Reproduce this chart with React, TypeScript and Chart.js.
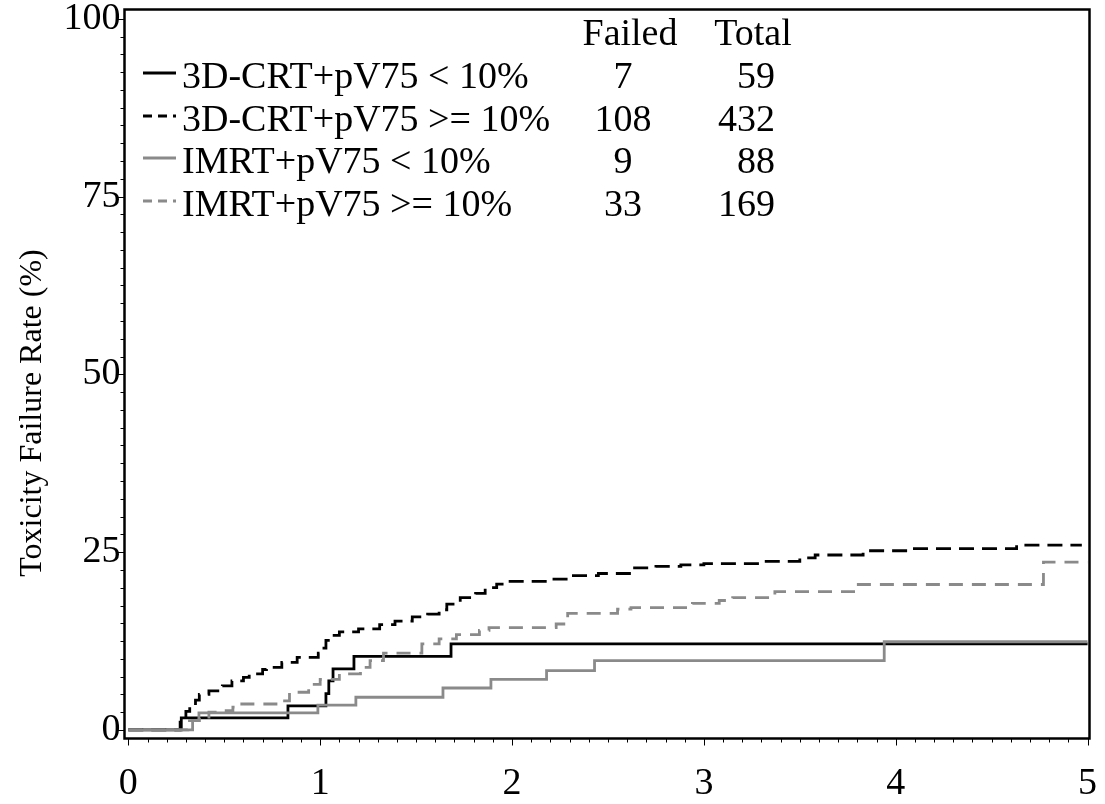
import React, { useEffect, useRef } from "react";
import { Chart, registerables } from "chart.js";

Chart.register(...registerables);

// ---- Data ----
const crtLowX = [0, 0.276, 0.832, 1.03, 1.045, 1.067, 1.176, 1.682, 5.0];
const crtLowY = [0, 1.7, 3.4, 5.1, 6.9, 8.6, 10.35, 12.1, 12.1];

const crtHighX = [0, 0.27, 0.3, 0.32, 0.35, 0.37, 0.42, 0.49, 0.54, 0.6, 0.63, 0.7, 0.72, 0.8, 0.88, 0.99, 1.01, 1.03, 1.06, 1.1, 1.2, 1.31, 1.39, 1.48, 1.56, 1.62, 1.66, 1.73, 1.81, 1.86, 1.92, 1.97, 2.2, 2.32, 2.45, 2.62, 2.75, 2.88, 3.0, 3.3, 3.5, 3.58, 3.83, 4.06, 4.63, 4.97];
const crtHighY = [0, 1.8, 2.6, 3.4, 4.2, 5.0, 5.5, 6.2, 6.9, 7.4, 7.9, 8.5, 8.8, 9.5, 10.2, 10.8, 11.5, 12.6, 13.3, 13.8, 14.2, 14.8, 15.3, 15.9, 16.3, 16.9, 17.7, 18.6, 19.2, 20.0, 20.5, 20.9, 21.2, 21.7, 22.0, 22.8, 23.0, 23.2, 23.4, 23.7, 24.2, 24.6, 25.2, 25.5, 26.0, 26.0];

const imrtLowX = [0, 0.335, 0.368, 0.988, 1.186, 1.64, 1.89, 2.18, 2.43, 3.94, 5.0];
const imrtLowY = [0, 1.3, 2.4, 3.5, 4.6, 5.9, 7.1, 8.35, 9.75, 12.4, 12.4];

const imrtHighX = [0, 0.31, 0.37, 0.42, 0.51, 0.545, 0.58, 0.8, 0.84, 0.94, 1.0, 1.1, 1.21, 1.26, 1.33, 1.53, 1.62, 1.71, 1.83, 1.88, 2.23, 2.27, 2.29, 2.55, 2.62, 2.94, 3.08, 3.15, 3.37, 3.79, 4.77, 5.0];
const imrtHighY = [0, 1.3, 1.8, 2.5, 2.7, 3.2, 3.65, 4.1, 5.3, 6.4, 7.1, 7.9, 8.8, 9.75, 10.8, 12.1, 12.8, 13.4, 14.0, 14.4, 14.9, 15.6, 16.4, 17.0, 17.2, 17.8, 18.2, 18.6, 19.45, 20.45, 23.6, 23.6];

const groupLabels = ["3D-CRT+pV75 < 10%", "3D-CRT+pV75 >= 10%", "IMRT+pV75 < 10%", "IMRT+pV75 >= 10%"];
const failedCounts = ["7", "108", "9", "33"];
const totalCounts = ["59", "432", "88", "169"];
const xTickValues = [0, 1, 2, 3, 4, 5];
const yTickValues = [0, 25, 50, 75, 100];
const yTitle = "Toxicity Failure Rate (%)";

const GRAY = "#8a8a8a";
const FONT = "'Liberation Serif', 'Times New Roman', serif";

const styles = [
  { color: "#000", dash: [] as number[] },
  { color: "#000", dash: [15, 8] },
  { color: GRAY, dash: [] as number[] },
  { color: GRAY, dash: [14, 9] },
];

const toPts = (xs: number[], ys: number[]) => xs.map((x, i) => ({ x, y: ys[i] }));

const overlay = {
  id: "overlay",
  afterDraw(chart: any) {
    const ctx = chart.ctx as CanvasRenderingContext2D;
    const { left, right, top, bottom } = chart.chartArea;
    const xs = chart.scales.x;
    const ys = chart.scales.y;
    ctx.save();
    // frame
    ctx.strokeStyle = "#000";
    ctx.lineWidth = 2.5;
    ctx.setLineDash([]);
    ctx.strokeRect(left, top, right - left, bottom - top);
    // x ticks
    ctx.lineWidth = 1;
    for (let i = 0; i <= 50; i++) {
      const v = i / 10;
      const px = Math.round(xs.getPixelForValue(v)) + 0.5;
      const len = i % 10 === 0 ? 7 : 4;
      ctx.beginPath();
      ctx.moveTo(px, bottom);
      ctx.lineTo(px, bottom + len);
      ctx.stroke();
    }
    // y ticks
    for (let i = 0; i <= 40; i++) {
      const v = i * 2.5;
      const py = Math.round(ys.getPixelForValue(v)) + 0.5;
      const len = i % 10 === 0 ? 7 : 4;
      ctx.beginPath();
      ctx.moveTo(left, py);
      ctx.lineTo(left - len, py);
      ctx.stroke();
    }
    // y title
    ctx.fillStyle = "#000";
    ctx.font = `32px ${FONT}`;
    ctx.textAlign = "center";
    ctx.textBaseline = "alphabetic";
    ctx.save();
    ctx.translate(41, 413);
    ctx.rotate(-Math.PI / 2);
    ctx.fillText(yTitle, 0, 0);
    ctx.restore();
    // legend
    ctx.font = `38px ${FONT}`;
    ctx.textAlign = "center";
    ctx.fillText("Failed", 630, 45);
    ctx.fillText("Total", 753, 45);
    const baselines = [88, 131, 173, 216];
    groupLabels.forEach((lab, i) => {
      const b = baselines[i];
      const st = styles[i];
      ctx.strokeStyle = st.color;
      ctx.lineWidth = 2.8;
      ctx.setLineDash(st.dash.length ? [9, 6] : []);
      ctx.beginPath();
      ctx.moveTo(143, b - 15);
      ctx.lineTo(176, b - 15);
      ctx.stroke();
      ctx.setLineDash([]);
      ctx.fillStyle = "#000";
      ctx.textAlign = "left";
      ctx.fillText(lab, 182, b);
      ctx.textAlign = "center";
      ctx.fillText(failedCounts[i], 623, b);
      ctx.textAlign = "right";
      ctx.fillText(totalCounts[i], 775, b);
    });
    ctx.restore();
  },
};

export default function App() {
  const ref = useRef<HTMLCanvasElement | null>(null);
  useEffect(() => {
    document.body.style.margin = "0";
    const canvas = ref.current!;
    const series = [
      toPts(crtLowX, crtLowY),
      toPts(crtHighX, crtHighY),
      toPts(imrtLowX, imrtLowY),
      toPts(imrtHighX, imrtHighY),
    ];
    const order = [3, 2, 1, 0];
    const chart = new Chart(canvas, {
      type: "line",
      data: {
        datasets: order.map((i) => ({
          label: groupLabels[i],
          data: series[i],
          borderColor: styles[i].color,
          borderDash: styles[i].dash,
          borderWidth: 2.8,
          pointRadius: 0,
          stepped: "before" as const,
          fill: false,
        })),
      },
      options: {
        responsive: false,
        animation: false,
        devicePixelRatio: 1,
        layout: { padding: { top: 9.5, right: 15.5, left: 0, bottom: 0 } },
        plugins: { legend: { display: false }, tooltip: { enabled: false } },
        scales: {
          x: {
            type: "linear",
            min: -0.02,
            max: 5.01,
            grid: { display: false, drawTicks: false },
            border: { display: false },
            afterBuildTicks: (s: any) => {
              s.ticks = xTickValues.map((v) => ({ value: v }));
            },
            afterFit: (s: any) => {
              s.height = 65.5;
              s.paddingLeft = 0;
              s.paddingRight = 0;
            },
            ticks: {
              color: "#000",
              font: { family: FONT, size: 38 },
              padding: 23,
              maxRotation: 0,
              autoSkip: false,
            },
          },
          y: {
            type: "linear",
            min: -1.2,
            max: 101.3,
            grid: { display: false, drawTicks: false },
            border: { display: false },
            afterBuildTicks: (s: any) => {
              s.ticks = yTickValues.map((v) => ({ value: v }));
            },
            afterFit: (s: any) => {
              s.width = 124.5;
              s.paddingTop = 0;
              s.paddingBottom = 0;
            },
            ticks: {
              color: "#000",
              font: { family: FONT, size: 38 },
              padding: 4,
              autoSkip: false,
            },
          },
        },
      },
      plugins: [overlay],
    });
    return () => chart.destroy();
  }, []);
  return <canvas ref={ref} width={1105} height={804} style={{ display: "block" }} />;
}
